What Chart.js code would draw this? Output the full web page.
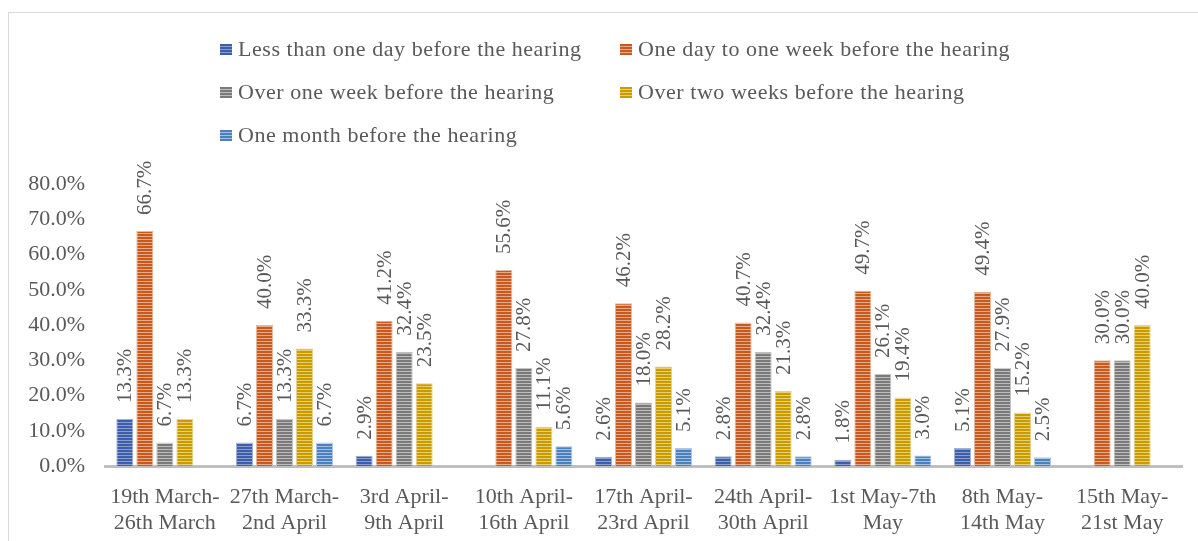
<!DOCTYPE html>
<html>
<head>
<meta charset="utf-8">
<script src="https://cdn.jsdelivr.net/npm/chart.js@4.4.1/dist/chart.umd.min.js"></script>
<style>
  html, body { margin: 0; padding: 0; background: #fff; }
  #wrap { position: relative; width: 1198px; height: 541px; overflow: hidden; background: #fff; }
  #frame { position: absolute; left: 8px; top: 12px; width: 1300px; height: 600px;
    border-left: 1.5px solid #d9d9d9; border-top: 1.5px solid #d9d9d9; pointer-events: none; }
  #legend { position: absolute; left: 0; top: 0; font-family: "Liberation Serif", serif;
    font-size: 22px; color: #595959; letter-spacing: 0.55px; }
  .item { position: absolute; white-space: nowrap; line-height: 26px; }
  .box { position: absolute; width: 12px; height: 11px; }
  canvas { position: absolute; left: 0; top: 0; }
</style>
</head>
<body>
<div id="wrap">
  <canvas id="chart" width="1198" height="541"></canvas>
  <div id="frame"></div>
  <div id="legend"></div>
</div>
<script>
const periods = [
  ['19th March-', '26th March'],
  ['27th March-', '2nd April'],
  ['3rd April-', '9th April'],
  ['10th April-', '16th April'],
  ['17th April-', '23rd April'],
  ['24th April-', '30th April'],
  ['1st May-7th', 'May'],
  ['8th May-', '14th May'],
  ['15th May-', '21st May']
];

const seriesNames = [
  'Less than one day before the hearing',
  'One day to one week before the hearing',
  'Over one week before the hearing',
  'Over two weeks before the hearing',
  'One month before the hearing'
];

const lessThanOneDay = [13.3, 6.7, 2.9, null, 2.6, 2.8, 1.8, 5.1, null];
const oneDayToOneWeek = [66.7, 40.0, 41.2, 55.6, 46.2, 40.7, 49.7, 49.4, 30.0];
const overOneWeek = [6.7, 13.3, 32.4, 27.8, 18.0, 32.4, 26.1, 27.9, 30.0];
const overTwoWeeks = [13.3, 33.3, 23.5, 11.1, 28.2, 21.3, 19.4, 15.2, 40.0];
const oneMonth = [null, 6.7, null, 5.6, 5.1, 2.8, 3.0, 2.5, null];

const yTicks = [0, 10, 20, 30, 40, 50, 60, 70, 80];

// dark stripe, light stripe, outline
const palette = [
  ['#3b5ea6', '#8a9fd0', '#9fb0d8'],
  ['#c65a20', '#e9aa84', '#e6b89c'],
  ['#7a7a7a', '#bdbdbd', '#c4c4c4'],
  ['#c89b00', '#e8cf72', '#e6d48e'],
  ['#4b80bc', '#a3c0e2', '#adc6e4']
];

function stripes(dark, light) {
  const c = document.createElement('canvas');
  c.width = 4; c.height = 3;
  const x = c.getContext('2d');
  x.fillStyle = dark; x.fillRect(0, 0, 4, 3);
  x.fillStyle = light; x.fillRect(0, 2, 4, 1);
  return x.createPattern(c, 'repeat');
}

const values = [lessThanOneDay, oneDayToOneWeek, overOneWeek, overTwoWeeks, oneMonth];
const FONT = '"Liberation Serif", serif';
const TEXT = '#595959';

// legend in two columns
const legend = document.getElementById('legend');
const legendPos = [[220, 50], [620, 50], [220, 93], [620, 93], [220, 136]];
seriesNames.forEach((name, i) => {
  const [x, y] = legendPos[i];
  const box = document.createElement('div');
  box.className = 'box';
  box.style.left = x + 'px';
  box.style.top = (y - 6) + 'px';
  box.style.background = `repeating-linear-gradient(180deg, ${palette[i][0]} 0px, ${palette[i][0]} 2px, ${palette[i][1]} 2px, ${palette[i][1]} 3px)`;
  legend.append(box);
  const item = document.createElement('div');
  item.className = 'item';
  item.style.left = (x + 18) + 'px';
  item.style.top = (y - 14) + 'px';
  item.textContent = name;
  legend.append(item);
});

const barLabels = {
  id: 'barLabels',
  afterDatasetsDraw(chart) {
    const ctx = chart.ctx;
    ctx.save();
    ctx.font = '21px ' + FONT;
    ctx.fillStyle = TEXT;
    ctx.textAlign = 'left';
    ctx.textBaseline = 'middle';
    chart.data.datasets.forEach((ds, i) => {
      chart.getDatasetMeta(i).data.forEach((bar, j) => {
        const v = ds.data[j];
        if (v === null) return;
        ctx.save();
        ctx.translate(bar.x, bar.y - 16);
        ctx.rotate(-Math.PI / 2);
        ctx.fillText(v.toFixed(1) + '%', 0, 1);
        ctx.restore();
      });
    });
    ctx.restore();
  }
};

new Chart(document.getElementById('chart'), {
  type: 'bar',
  data: {
    labels: periods,
    datasets: values.map((data, i) => ({
      label: seriesNames[i],
      data: data,
      backgroundColor: stripes(palette[i][0], palette[i][1]),
      borderColor: palette[i][2],
      borderWidth: 1,
      categoryPercentage: 0.836,
      barPercentage: 0.85
    }))
  },
  options: {
    responsive: false,
    animation: false,
    layout: { padding: { top: 184, left: 8, right: 16, bottom: 0 } },
    plugins: {
      legend: { display: false },
      tooltip: { enabled: false }
    },
    scales: {
      x: {
        grid: { display: false, drawTicks: false },
        border: { display: true, color: '#bfbfbf', width: 3 },
        ticks: {
          color: TEXT,
          font: { family: FONT, size: 22, lineHeight: 1.15 },
          padding: 19,
          maxRotation: 0,
          autoSkip: false
        },
        afterFit: scale => { scale.height = 75; }
      },
      y: {
        min: 0,
        max: 80,
        afterBuildTicks: scale => { scale.ticks = yTicks.map(v => ({ value: v })); },
        grid: { display: false, drawTicks: false },
        border: { display: false },
        ticks: {
          color: TEXT,
          font: { family: FONT, size: 22 },
          padding: 20,
          callback: v => v.toFixed(1) + '%'
        },
        afterFit: scale => { scale.width = 97; }
      }
    }
  },
  plugins: [barLabels]
});
</script>
</body>
</html>
